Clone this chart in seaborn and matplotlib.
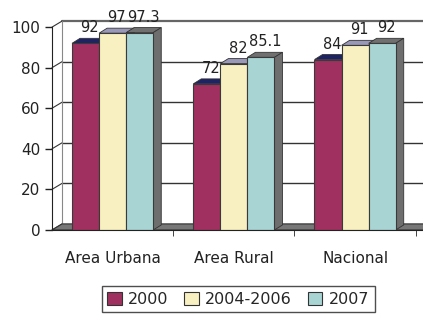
import numpy as np
import pandas as pd
import matplotlib
matplotlib.use("Agg")
import matplotlib.pyplot as plt
import seaborn as sns
from matplotlib.patches import Polygon
from matplotlib.lines import Line2D

categories = ["Area Urbana", "Area Rural", "Nacional"]
years = ["2000", "2004-2006", "2007"]
v2000 = [92, 72, 84]
v2004_2006 = [97, 82, 91]
v2007 = [97.3, 85.1, 92]
y_ticks = [0, 20, 40, 60, 80, 100]

colors = ["#A0305F", "#F8F0C0", "#A8D4D4"]
top_colors = ["#1E2366", "#9A98B8", "#707070"]
side_color = "#6E6E6E"

rows = []
for yr, vals in zip(years, [v2000, v2004_2006, v2007]):
    for c, v in zip(categories, vals):
        rows.append({"cat": c, "year": yr, "value": v})
df = pd.DataFrame(rows)

sns.set_style("white")
plt.rcParams["font.family"] = ["DejaVu Sans"]

fig = plt.figure(figsize=(4.23, 3.15), dpi=100)
ax = fig.add_axes([0.123, 0.27, 0.877, 0.644])

sns.barplot(data=df, x="cat", y="value", hue="year", order=categories,
            hue_order=years, palette=colors, saturation=1, width=0.67,
            edgecolor="#3a3a3a", linewidth=0.8, ax=ax, errorbar=None)

xl, xr = -0.5, 2.56
ax.set_xlim(xl, xr)
ax.set_ylim(0, 100)

# pixel -> data conversion for depth effects
ax_w_px = 0.877 * 423
ax_h_px = 0.644 * 315
px_x = (xr - xl) / ax_w_px
px_y = 100 / ax_h_px
ddx, ddy = 8 * px_x, 5 * px_y      # bar depth
bdx, bdy = 10 * px_x, 6 * px_y     # back wall offset

# floor
ax.add_patch(Polygon([(xl, 0), (xr + 1, 0), (xr + 1 + bdx, bdy), (xl + bdx, bdy)],
                     closed=True, facecolor="#777777", edgecolor="#333333",
                     lw=0.8, zorder=0.6, clip_on=False))
# back wall gridlines
for v in y_ticks:
    lw = 1.6 if v == y_ticks[-1] else 1.0
    col = "#666666" if v == y_ticks[-1] else "#333333"
    ax.add_line(Line2D([xl + bdx, xr + 1], [v + bdy, v + bdy], color=col,
                       lw=lw, zorder=0.5, clip_on=False))
    ax.add_line(Line2D([xl, xl + bdx], [v, v + bdy], color="#333333",
                       lw=0.8, zorder=0.5, clip_on=False))
ax.add_line(Line2D([xl + bdx, xl + bdx], [bdy, y_ticks[-1] + bdy],
                   color="#888888", lw=0.8, zorder=0.5, clip_on=False))

# 3D tops and sides, plus value labels
for ci, cont in enumerate(ax.containers):
    for bar in cont:
        x0, w, h = bar.get_x(), bar.get_width(), bar.get_height()
        bar.set_zorder(2)
        top = [(x0, h), (x0 + w, h), (x0 + w + ddx, h + ddy), (x0 + ddx, h + ddy)]
        side = [(x0 + w, 0), (x0 + w + ddx, ddy), (x0 + w + ddx, h + ddy), (x0 + w, h)]
        ax.add_patch(Polygon(top, closed=True, facecolor=top_colors[ci],
                             edgecolor="#333333", lw=0.6, zorder=1.5, clip_on=False))
        ax.add_patch(Polygon(side, closed=True, facecolor=side_color,
                             edgecolor="#333333", lw=0.6, zorder=1.5, clip_on=False))
        ax.text(x0 + w / 2 + ddx / 2, h + ddy + 1.5, f"{h:g}", ha="center",
                va="bottom", fontsize=10.5, color="#222222", zorder=3, clip_on=False)

sns.despine(ax=ax, top=True, right=True)
ax.spines["left"].set_color("#222222")
ax.spines["bottom"].set_color("#222222")
ax.spines["left"].set_zorder(3)
ax.set_yticks(y_ticks)
ax.tick_params(axis="y", length=5, width=1, color="#222222", labelsize=11,
               labelcolor="#222222", direction="out", left=True)
ax.set_xticks(range(len(categories)))
ax.set_xticks([0.5, 1.5, 2.5], minor=True)
ax.tick_params(axis="x", which="major", length=0, pad=15, labelsize=11,
               labelcolor="#222222")
ax.tick_params(axis="x", which="minor", length=4, color="#222222", bottom=True)
ax.set_xlabel("")
ax.set_ylabel("")

sns.move_legend(ax, loc="center", bbox_to_anchor=(0.563, 0.05),
                bbox_transform=fig.transFigure, ncol=3, title=None,
                frameon=True, fontsize=11.5, handlelength=0.9, handleheight=0.9,
                handletextpad=0.4, columnspacing=1.0, borderpad=0.35,
                fancybox=False, edgecolor="#222222")
leg = ax.get_legend()
leg.get_frame().set_linewidth(1.0)
for hnd in leg.legend_handles:
    hnd.set_edgecolor("#333333")
    hnd.set_linewidth(0.8)

fig.savefig("out.png", dpi=100, facecolor="white")
